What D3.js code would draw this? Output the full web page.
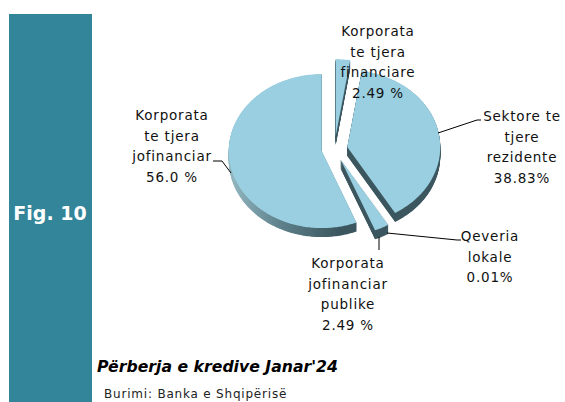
<!DOCTYPE html>
<html><head><meta charset="utf-8">
<script src="https://cdn.jsdelivr.net/npm/d3@7"></script>
<style>body{margin:0;background:#fff}svg{display:block}</style>
</head><body><svg id="c" width="565" height="402"></svg>
<script>
// ---- data ----
const categories = ["Korporata te tjera financiare","Sektore te tjere rezidente","Qeveria lokale","Korporata jofinanciar publike","Korporata te tjera jofinanciar"];
const values = [2.49, 38.83, 0.01, 2.49, 56.0];
const valueLabels = ["2.49 %","38.83%","0.01%","2.49 %","56.0 %"];
const labelLines = [["Korporata","te tjera","financiare"],["Sektore te","tjere","rezidente"],["Qeveria","lokale"],["Korporata","jofinanciar","publike"],["Korporata","te tjera","jofinanciar"]];
const titleText = "Përberja e kredive Janar'24";
const sourceText = "Burimi: Banka e Shqipërisë";
const figText = "Fig. 10";

// ---- layout / style ----
const W = 565, H = 402;
const cx = 334.5, cy = 149, rx = 93, ry = 77, depth = 9, kv = 0.85;
const explode = [15, 13, 13, 13, 13];
const topColor = "#99cfe0";
const labelPos = [ // center x, first baseline
  {x: 378, y: 36}, {x: 522, y: 121}, {x: 490, y: 241}, {x: 348, y: 268}, {x: 172, y: 120}
];
const lineH = 20.7;
const leaders = [
  null,
  [[438,133],[477,120],[481,120]],
  [[387,233],[457,240],[461,240]],
  [[379,237],[379,250]],
  [[213,161],[222,161],[231,173]]
];

const svg = d3.select("#c");
const defs = svg.append("defs");
const g1 = defs.append("linearGradient").attr("id","side").attr("gradientUnits","userSpaceOnUse")
  .attr("x1", cx - rx - 12).attr("x2", cx + 5).attr("y1",0).attr("y2",0);
g1.append("stop").attr("offset",0).attr("stop-color","#93b8c2");
g1.append("stop").attr("offset",0.45).attr("stop-color","#5f828c");
g1.append("stop").attr("offset",1).attr("stop-color","#3b565e");

// left teal bar
svg.append("rect").attr("x",9).attr("y",14).attr("width",83).attr("height",H-14).attr("fill","#338599");
svg.append("text").attr("x",50).attr("y",220).attr("text-anchor","middle")
  .attr("font-family","DejaVu Sans").attr("font-weight","bold").attr("font-size",19)
  .attr("fill","#fff").text(figText);

const pie = d3.pie().sort(null).startAngle(0).endAngle(2*Math.PI);
const arcs = pie(values);

function pt(a, ox, oy){ return [cx + ox + rx*Math.sin(a), cy + oy - ry*Math.cos(a)]; }
function slicePath(d, ox, oy){
  const pts = [[cx+ox, cy+oy]];
  const n = Math.max(2, Math.ceil((d.endAngle - d.startAngle)/(Math.PI/180)));
  for(let i=0;i<=n;i++){ const a = d.startAngle + (d.endAngle-d.startAngle)*i/n; pts.push(pt(a,ox,oy)); }
  return "M" + pts.map(p=>p[0].toFixed(2)+","+p[1].toFixed(2)).join("L") + "Z";
}
const offs = arcs.map((d,i)=>{
  const m = (d.startAngle + d.endAngle)/2;
  return [explode[i]*Math.sin(m), -explode[i]*Math.cos(m)*kv];
});

const pieG = svg.append("g");
// sides
arcs.forEach((d,i)=>{
  for(let t=depth;t>0;t-=0.5){
    pieG.append("path").attr("d", slicePath(d, offs[i][0], offs[i][1]+t)).attr("fill","url(#side)");
  }
});
// tops
arcs.forEach((d,i)=>{
  pieG.append("path").attr("d", slicePath(d, offs[i][0], offs[i][1])).attr("fill", topColor);
});

// leaders
const line = d3.line();
leaders.forEach(l=>{ if(l) svg.append("path").attr("d", line(l)).attr("fill","none").attr("stroke","#000").attr("stroke-width",1); });

// labels
categories.forEach((c,i)=>{
  const lines = labelLines[i].concat([valueLabels[i]]);
  const t = svg.append("text").attr("text-anchor","middle").attr("font-family","DejaVu Sans")
    .attr("font-size",13.5).attr("letter-spacing",0.8).attr("fill","#111");
  lines.forEach((s,k)=>{ t.append("tspan").attr("x",labelPos[i].x).attr("y",labelPos[i].y + k*lineH).text(s); });
});

svg.append("text").attr("x",97).attr("y",372).attr("font-family","DejaVu Sans").attr("font-weight","bold")
  .attr("font-style","italic").attr("font-size",15.7).attr("fill","#000").text(titleText);
svg.append("text").attr("x",104).attr("y",398).attr("font-family","DejaVu Sans")
  .attr("font-size",12).attr("letter-spacing",0.8).attr("fill","#222").text(sourceText);
</script></body></html>
